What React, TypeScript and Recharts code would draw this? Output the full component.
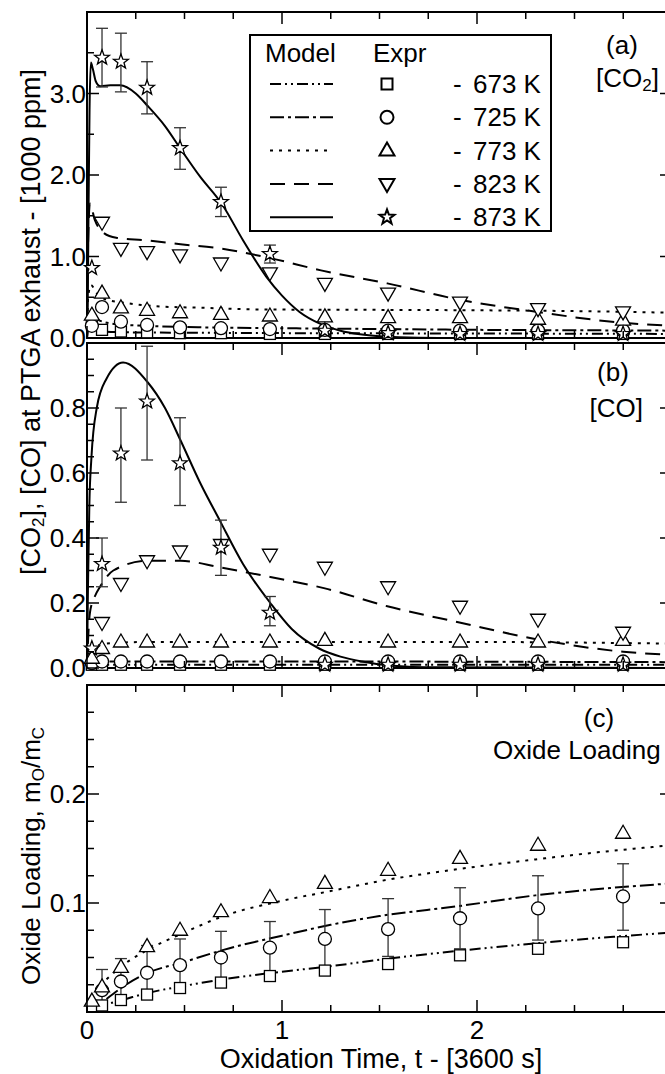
import React from 'react'
import { ComposedChart, Line, Scatter, XAxis, YAxis, ErrorBar, ReferenceArea, Legend } from 'recharts'

const FONT = '"Liberation Sans", Arial, Helvetica, sans-serif'
const W = 700 // svg width, right frame sits just past the 665px window
const LEFT = 87 // plot left edge
const PW = 585 // plot width for 0..3

// sampling times of the measurements, [3600 s]
const tExp = [0.025, 0.077, 0.174, 0.308, 0.477, 0.687, 0.938, 1.22, 1.544, 1.913, 2.313, 2.749]

const temps = ['673 K', '725 K', '773 K', '823 K', '873 K']
const markers = ['square', 'circle', 'up', 'down', 'star']
const dashes = ['11 4 2 4 2 4', '14 4 3 4', '3 6', '15 9', '']

// (a) [CO2], measured
const co2Exp673 = [0.17, 0.1, 0.08, 0.07, 0.06, 0.06, 0.05, 0.05, 0.05, 0.05, 0.05, 0.05]
const co2Exp725 = [0.15, 0.38, 0.2, 0.16, 0.13, 0.12, 0.11, 0.1, 0.09, 0.09, 0.09, 0.09]
const co2Exp773 = [0.28, 0.55, 0.37, 0.34, 0.31, 0.29, 0.27, 0.26, 0.25, 0.25, 0.23, 0.22]
const co2Exp823 = [null, 1.42, 1.1, 1.06, 1.02, 0.92, 0.8, 0.67, 0.55, 0.44, 0.36, 0.32]
const co2Exp873 = [0.86, 3.44, 3.39, 3.07, 2.33, 1.67, 1.03, 0.09, 0.06, 0.05, 0.05, 0.05]
const co2Err873 = [null, [0.36, 0.36], [0.37, 0.35], [0.32, 0.32], [0.26, 0.25], [0.18, 0.18], [0.11, 0.11], null, null, null, null, null]

// (a) [CO2], model
const co2Mod673 = [[0, 0], [0.006, 0.1], [0.02, 0.12], [0.08, 0.08], [0.2, 0.07], [0.5, 0.065], [1, 0.06], [2, 0.055], [3, 0.05]]
const co2Mod725 = [[0, 0], [0.006, 0.25], [0.02, 0.3], [0.06, 0.22], [0.15, 0.17], [0.3, 0.15], [0.6, 0.13], [1, 0.12], [1.5, 0.11], [2, 0.1], [2.5, 0.095], [3, 0.09]]
const co2Mod773 = [[0, 0], [0.006, 0.5], [0.02, 0.65], [0.05, 0.55], [0.1, 0.47], [0.2, 0.43], [0.35, 0.39], [0.6, 0.37], [0.9, 0.35], [1.5, 0.345], [2, 0.34], [2.5, 0.33], [3, 0.31]]
const co2Mod823 = [[0, 0], [0.006, 1.2], [0.015, 1.65], [0.04, 1.45], [0.08, 1.3], [0.15, 1.23], [0.3, 1.2], [0.48, 1.15], [0.68, 1.1], [0.94, 0.98], [1.2, 0.83], [1.54, 0.67], [1.91, 0.47], [2.31, 0.32], [2.73, 0.19], [3, 0.15]]
const co2Mod873 = [[0, 0], [0.004, 0.5], [0.008, 1.6], [0.013, 2.8], [0.02, 3.38], [0.03, 3.3], [0.045, 3.15], [0.067, 3.09], [0.12, 3.1], [0.17, 3.1], [0.25, 3.0], [0.31, 2.85], [0.4, 2.6], [0.48, 2.32], [0.58, 1.98], [0.69, 1.65], [0.8, 1.2], [0.92, 0.75], [1.0, 0.52], [1.09, 0.32], [1.2, 0.17], [1.3, 0.09], [1.4, 0.045], [1.5, 0.02], [1.6, 0.008], [1.8, 0], [3, 0]]

// (b) [CO], measured
const coExp673 = [0.01, 0.01, 0.01, 0.01, 0.01, 0.01, 0.01, 0.01, 0.01, 0.01, 0.01, 0.01]
const coExp725 = [0.015, 0.02, 0.02, 0.02, 0.02, 0.02, 0.02, 0.02, 0.02, 0.02, 0.02, 0.02]
const coExp773 = [0.03, 0.06, 0.08, 0.08, 0.08, 0.08, 0.08, 0.085, 0.08, 0.08, 0.08, 0.085]
const coExp823 = [null, 0.14, 0.26, 0.33, 0.36, 0.38, 0.35, 0.31, 0.25, 0.19, 0.15, 0.11]
const coExp873 = [0.06, 0.32, 0.66, 0.82, 0.63, 0.37, 0.17, 0.01, 0.01, 0.01, 0.01, 0.01]
const coErr873 = [null, [0.07, 0.08], [0.15, 0.14], [0.18, 0.17], [0.13, 0.14], [0.085, 0.085], [0.04, 0.05], null, null, null, null, null]

// (b) [CO], model
const coMod673 = [[0, 0], [0.02, 0.008], [0.1, 0.01], [3, 0.01]]
const coMod725 = [[0, 0], [0.02, 0.015], [0.1, 0.02], [1, 0.02], [3, 0.018]]
const coMod773 = [[0, 0], [0.01, 0.04], [0.04, 0.065], [0.1, 0.075], [0.3, 0.08], [1, 0.08], [2, 0.08], [3, 0.075]]
const coMod823 = [[0, 0], [0.005, 0.08], [0.015, 0.17], [0.04, 0.22], [0.067, 0.25], [0.135, 0.3], [0.31, 0.33], [0.48, 0.33], [0.68, 0.31], [0.94, 0.28], [1.22, 0.245], [1.54, 0.19], [1.91, 0.14], [2.31, 0.088], [2.75, 0.05], [3, 0.04]]
const coMod873 = [[0, 0], [0.005, 0.25], [0.012, 0.5], [0.023, 0.65], [0.05, 0.8], [0.1, 0.89], [0.185, 0.94], [0.31, 0.88], [0.4, 0.8], [0.48, 0.7], [0.58, 0.57], [0.68, 0.455], [0.8, 0.32], [0.94, 0.2], [1.05, 0.12], [1.19, 0.06], [1.3, 0.035], [1.41, 0.02], [1.55, 0.008], [1.8, 0.002], [3, 0]]

// (c) oxide loading, measured
const oxExp673 = [null, 0.006, 0.011, 0.016, 0.022, 0.027, 0.033, 0.038, 0.044, 0.052, 0.058, 0.064]
const oxExp725 = [null, 0.02, 0.028, 0.036, 0.043, 0.05, 0.059, 0.067, 0.076, 0.086, 0.095, 0.106]
const oxErr725 = [null, [0.015, 0.019], [0.02, 0.021], [0.022, 0.025], [0.024, 0.024], [0.023, 0.024], [0.023, 0.024], [0.026, 0.027], [0.025, 0.028], [0.028, 0.028], [0.029, 0.03], [0.031, 0.03]]
const oxExp773 = [0.01, 0.023, 0.041, 0.06, 0.075, 0.092, 0.105, 0.118, 0.13, 0.141, 0.153, 0.164]

// (c) oxide loading, model
const oxMod673 = [[0.05, 0.004], [0.1, 0.007], [0.2, 0.012], [0.3, 0.017], [0.5, 0.024], [0.7, 0.03], [1, 0.037], [1.25, 0.042], [1.5, 0.048], [1.9, 0.056], [2.3, 0.063], [2.7, 0.069], [3, 0.073]]
const oxMod725 = [[0.1, 0.012], [0.2, 0.025], [0.3, 0.035], [0.5, 0.046], [0.7, 0.057], [1, 0.07], [1.25, 0.08], [1.5, 0.088], [1.9, 0.097], [2.3, 0.107], [2.7, 0.114], [3, 0.118]]
const oxMod773 = [[0.1, 0.03], [0.2, 0.045], [0.3, 0.056], [0.5, 0.073], [0.7, 0.088], [1, 0.102], [1.25, 0.111], [1.5, 0.12], [1.9, 0.131], [2.3, 0.14], [2.7, 0.148], [3, 0.153]]

// ticks
const xTicks = [0, 0.25, 0.5, 0.75, 1, 1.25, 1.5, 1.75, 2, 2.25, 2.5, 2.75, 3]
const xMajor = [0, 1, 2, 3]
const xTickLabels = [0, 1, 2]
const yTicksA = [0, 0.5, 1, 1.5, 2, 2.5, 3, 3.5]
const yMajorA = [0, 1, 2, 3]
const yTicksB = [0, 0.05, 0.1, 0.15, 0.2, 0.25, 0.3, 0.35, 0.4, 0.45, 0.5, 0.55, 0.6, 0.65, 0.7, 0.75, 0.8, 0.85, 0.9, 0.95]
const yMajorB = [0, 0.2, 0.4, 0.6, 0.8]
const yTicksC = [0.025, 0.05, 0.075, 0.1, 0.125, 0.15, 0.175, 0.2, 0.225, 0.25, 0.275]
const yMajorC = [0.1, 0.2]

const toPts = (vals: (number | null)[], errs?: any[]) =>
  tExp.map((x, i) => ({ x, y: vals[i], err: errs ? errs[i] : null })).filter((p) => p.y !== null)
const toCurve = (pairs: number[][]) => pairs.map(([x, y]) => ({ x, y }))

const txt = { fontFamily: FONT, fontSize: 26, fill: '#000' }

function Marker({ cx, cy, kind, sw = 1.3 }: any) {
  const c = { fill: '#fff', stroke: '#000', strokeWidth: sw }
  if (kind === 'square') return <rect x={cx - 5.5} y={cy - 5.5} width={11} height={11} {...c} />
  if (kind === 'circle') return <circle cx={cx} cy={cy} r={6.5} {...c} />
  if (kind === 'up') return <polygon points={`${cx},${cy - 8} ${cx + 7.5},${cy + 5} ${cx - 7.5},${cy + 5}`} {...c} />
  if (kind === 'down') return <polygon points={`${cx},${cy + 8} ${cx + 7.5},${cy - 5} ${cx - 7.5},${cy - 5}`} {...c} />
  const pts: string[] = []
  for (let i = 0; i < 10; i++) {
    const r = i % 2 ? 3.2 : 7.8
    const a = -Math.PI / 2 + (i * Math.PI) / 5
    pts.push(`${cx + r * Math.cos(a)},${cy + r * Math.sin(a)}`)
  }
  return <polygon points={pts.join(' ')} {...c} />
}

// inward ticks on left + right frame
const yTick = (majors: number[], labels: number[]) => (p: any) => {
  const v = p.payload.value
  const big = majors.includes(v)
  const len = big ? 12 : 7
  return (
    <g>
      <line x1={p.x} x2={p.x + len} y1={p.y} y2={p.y} stroke="#000" strokeWidth={1.5} />
      {big && <line x1={p.x + PW} x2={p.x + PW - len} y1={p.y} y2={p.y} stroke="#000" strokeWidth={1.5} />}
      {labels.includes(v) && (
        <text x={p.x - 1} y={p.y} textAnchor="end" dominantBaseline="central" {...txt}>
          {v.toFixed(1)}
        </text>
      )}
    </g>
  )
}

// inward ticks on bottom + top frame
const xTick = (plotH: number, showLabels: boolean) => (p: any) => {
  const v = p.payload.value
  const len = xMajor.includes(v) ? 12 : 7
  return (
    <g>
      <line x1={p.x} x2={p.x} y1={p.y} y2={p.y - len} stroke="#000" strokeWidth={1.5} />
      <line x1={p.x} x2={p.x} y1={p.y - plotH} y2={p.y - plotH + len} stroke="#000" strokeWidth={1.5} />
      {showLabels && xTickLabels.includes(v) && (
        <text x={p.x} y={p.y + 18} textAnchor="middle" dominantBaseline="central" {...txt}>
          {v}
        </text>
      )}
    </g>
  )
}

function LegendBox() {
  return (
    <svg width={303} height={198} style={{ display: 'block' }}>
      <rect x={1} y={1} width={301} height={196} fill="#fff" stroke="#000" strokeWidth={2} />
      <text x={16} y={19} dominantBaseline="central" {...txt}>Model</text>
      <text x={124} y={19} dominantBaseline="central" {...txt}>Expr</text>
      {temps.map((t, i) => {
        const y = 50 + i * 33.3
        return (
          <g key={t}>
            <line x1={21} x2={84} y1={y} y2={y} stroke="#000" strokeWidth={2} strokeDasharray={dashes[i] || undefined} />
            <Marker cx={138} cy={y} kind={markers[i]} sw={2} />
            <text x={204} y={y} dominantBaseline="central" {...txt}>-</text>
            <text x={224} y={y} dominantBaseline="central" {...txt}>{t}</text>
          </g>
        )
      })}
    </svg>
  )
}

type Series = { data: any[]; idx: number; err?: boolean }

function Panel(props: any) {
  const { top, height, bottom, xAxisH, yMax, yTicks, yMajor, yLabels, plotH, xLabels, models, exps, children } = props
  return (
    <div style={{ position: 'absolute', left: 0, top }}>
      <ComposedChart width={W} height={height} margin={{ top: 12, right: W - LEFT - PW, bottom, left: LEFT - 60 }}>
        <XAxis type="number" dataKey="x" domain={[0, 3]} ticks={xTicks} interval={0} tickSize={0} tickMargin={0}
          axisLine={false} height={xAxisH} tick={xTick(plotH, xLabels)} />
        <YAxis type="number" dataKey="y" domain={[0, yMax]} ticks={yTicks} interval={0} tickSize={0} tickMargin={0}
          axisLine={false} width={60} tick={yTick(yMajor, yLabels)} />
        <ReferenceArea x1={0} x2={3} y1={0} y2={yMax} fill="none" stroke="#000" strokeWidth={2} ifOverflow="visible" />
        {models.map((m: Series) => (
          <Line key={'m' + m.idx} data={m.data} dataKey="y" type="monotone" stroke="#000" strokeWidth={2}
            strokeDasharray={dashes[m.idx] || undefined} dot={false} activeDot={false} isAnimationActive={false} />
        ))}
        {exps.map((e: Series) => (
          <Scatter key={'e' + e.idx} data={e.data} isAnimationActive={false}
            shape={(p: any) => <Marker cx={p.cx} cy={p.cy} kind={markers[e.idx]} />}>
            {e.err && <ErrorBar dataKey="err" direction="y" width={6} stroke="#333" strokeWidth={1.3} />}
          </Scatter>
        ))}
        {children}
      </ComposedChart>
    </div>
  )
}

export default function App() {
  return (
    <div style={{ position: 'fixed', left: 0, top: 0, width: 665, height: 1074, overflow: 'hidden', background: '#fff', fontFamily: FONT }}>
      {/* (a) CO2 */}
      <Panel top={0} height={680} bottom={320} xAxisH={22} yMax={4} yTicks={yTicksA} yMajor={yMajorA} yLabels={yMajorA}
        plotH={326} xLabels={false}
        models={[co2Mod673, co2Mod725, co2Mod773, co2Mod823, co2Mod873].map((d, idx) => ({ data: toCurve(d), idx }))}
        exps={[
          { data: toPts(co2Exp673), idx: 0 },
          { data: toPts(co2Exp725), idx: 1 },
          { data: toPts(co2Exp773), idx: 2 },
          { data: toPts(co2Exp823), idx: 3 },
          { data: toPts(co2Exp873, co2Err873), idx: 4, err: true },
        ]}>
        <Legend layout="horizontal" align="center" verticalAlign="middle" width={303} height={198}
          wrapperStyle={{ left: 249, top: 34, right: 'auto', bottom: 'auto' }} content={() => <LegendBox />} />
        <text x={622} y={45} textAnchor="middle" dominantBaseline="central" {...txt}>(a)</text>
        <text x={659} y={78} textAnchor="end" dominantBaseline="central" {...txt}>
          [CO<tspan dy={7} fontSize={17}>2</tspan><tspan dy={-7}>]</tspan>
        </text>
        <text transform="translate(31,322) rotate(-90)" textAnchor="middle" dominantBaseline="central" {...txt} fontSize={27}>
          [CO<tspan dy={7} fontSize={17}>2</tspan><tspan dy={-7}>], [CO] at PTGA exhaust - [1000 ppm]</tspan>
        </text>
      </Panel>

      {/* (b) CO */}
      <Panel top={331} height={359} bottom={0} xAxisH={22} yMax={1} yTicks={yTicksB} yMajor={yMajorB} yLabels={yMajorB}
        plotH={325} xLabels={false}
        models={[coMod673, coMod725, coMod773, coMod823, coMod873].map((d, idx) => ({ data: toCurve(d), idx }))}
        exps={[
          { data: toPts(coExp673), idx: 0 },
          { data: toPts(coExp725), idx: 1 },
          { data: toPts(coExp773), idx: 2 },
          { data: toPts(coExp823), idx: 3 },
          { data: toPts(coExp873, coErr873), idx: 4, err: true },
        ]}>
        <text x={613} y={41} textAnchor="middle" dominantBaseline="central" {...txt}>(b)</text>
        <text x={643} y={77} textAnchor="end" dominantBaseline="central" {...txt}>[CO]</text>
      </Panel>

      {/* (c) oxide loading */}
      <Panel top={673} height={401} bottom={0} xAxisH={62} yMax={0.3} yTicks={yTicksC} yMajor={yMajorC} yLabels={yMajorC}
        plotH={327} xLabels={true}
        models={[oxMod673, oxMod725, oxMod773].map((d, idx) => ({ data: toCurve(d), idx }))}
        exps={[
          { data: toPts(oxExp673), idx: 0 },
          { data: toPts(oxExp725, oxErr725), idx: 1, err: true },
          { data: toPts(oxExp773), idx: 2 },
        ]}>
        <text x={599} y={45} textAnchor="middle" dominantBaseline="central" {...txt}>(c)</text>
        <text x={493} y={77} dominantBaseline="central" {...txt}>Oxide Loading</text>
        <text transform="translate(31,183) rotate(-90)" textAnchor="middle" dominantBaseline="central" {...txt}>
          Oxide Loading, m<tspan dy={7} fontSize={17}>O</tspan><tspan dy={-7}>/m</tspan><tspan dy={7} fontSize={17}>C</tspan>
        </text>
        <text x={381} y={386} textAnchor="middle" dominantBaseline="central" {...txt} fontSize={27}>
          Oxidation Time, t - [3600 s]
        </text>
      </Panel>
    </div>
  )
}
